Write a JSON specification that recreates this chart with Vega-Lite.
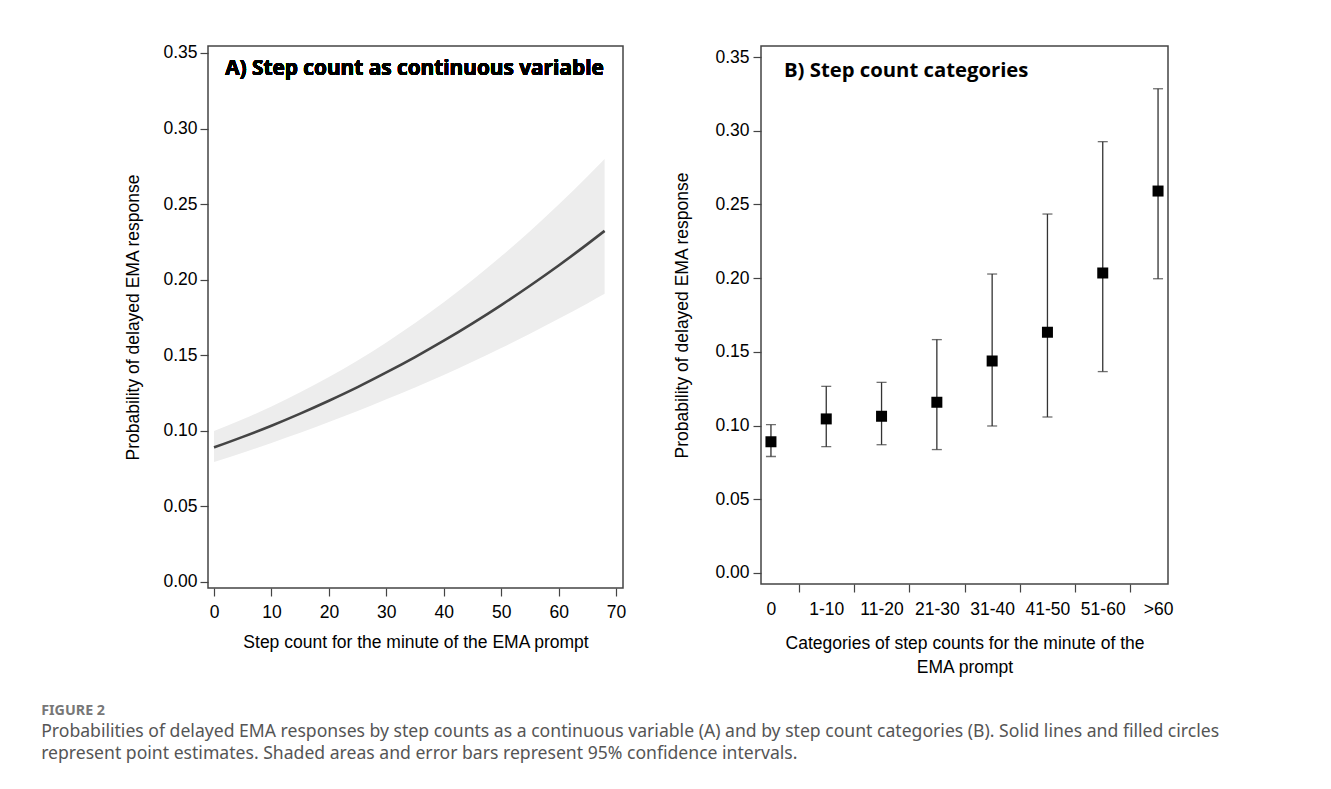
{
  "$schema": "https://vega.github.io/schema/vega-lite/v6.json",
  "padding": {"left": 41, "top": 43, "right": 5, "bottom": 5},
  "background": "white",
  "title": {
    "text": "FIGURE 2",
    "subtitle": ["Probabilities of delayed EMA responses by step counts as a continuous variable (A) and by step count categories (B). Solid lines and filled circles", "represent point estimates. Shaded areas and error bars represent 95% confidence intervals."],
    "orient": "bottom",
    "anchor": "start",
    "frame": "bounds",
    "dx": -83,
    "offset": 27,
    "font": "Noto Sans",
    "fontSize": 14.3,
    "fontWeight": "bold",
    "color": "#777777",
    "subtitleFont": "Noto Sans",
    "subtitleFontSize": 17.6,
    "subtitleColor": "#555555",
    "subtitleLineHeight": 22,
    "subtitlePadding": 5
  },
  "config": {
    "view": {"stroke": "#444444", "strokeWidth": 1.5},
    "axis": {
      "labelFont": "Liberation Sans",
      "labelFontSize": 17.5,
      "labelColor": "#000000",
      "titleFont": "Liberation Sans",
      "titleFontSize": 17.5,
      "titleFontWeight": "normal",
      "titleColor": "#000000",
      "tickColor": "#444444",
      "tickWidth": 1.2,
      "tickSize": 8,
      "domain": false,
      "grid": false
    }
  },
  "bounds": "flush",
  "spacing": 138,
  "hconcat": [
    {
      "width": 415,
      "height": 542,
      "data": {"values": [
        {"x": 0, "p": 0.0890, "lower": 0.0793, "upper": 0.0998},
        {"x": 5, "p": 0.0960, "lower": 0.0855, "upper": 0.1076},
        {"x": 10, "p": 0.1034, "lower": 0.0920, "upper": 0.1161},
        {"x": 15, "p": 0.1114, "lower": 0.0987, "upper": 0.1255},
        {"x": 20, "p": 0.1199, "lower": 0.1058, "upper": 0.1356},
        {"x": 25, "p": 0.1289, "lower": 0.1131, "upper": 0.1466},
        {"x": 30, "p": 0.1386, "lower": 0.1208, "upper": 0.1585},
        {"x": 35, "p": 0.1488, "lower": 0.1287, "upper": 0.1713},
        {"x": 40, "p": 0.1596, "lower": 0.1370, "upper": 0.1851},
        {"x": 45, "p": 0.1711, "lower": 0.1457, "upper": 0.1998},
        {"x": 50, "p": 0.1832, "lower": 0.1548, "upper": 0.2155},
        {"x": 55, "p": 0.1960, "lower": 0.1643, "upper": 0.2321},
        {"x": 60, "p": 0.2094, "lower": 0.1741, "upper": 0.2497},
        {"x": 65, "p": 0.2235, "lower": 0.1843, "upper": 0.2682},
        {"x": 68, "p": 0.2323, "lower": 0.1907, "upper": 0.2798}
      ]},
      "layer": [
        {
          "mark": {"type": "area", "color": "#ededed", "interpolate": "monotone"},
          "encoding": {
            "x": {"field": "x", "type": "quantitative",
              "scale": {"domain": [-1.05, 71.2], "nice": false, "zero": false},
              "axis": {"values": [0, 10, 20, 30, 40, 50, 60, 70], "labelPadding": 7, "title": "Step count for the minute of the EMA prompt", "titlePadding": 13}},
            "y": {"field": "lower", "type": "quantitative",
              "scale": {"domain": [-0.004, 0.3546], "nice": false, "zero": false},
              "axis": {"values": [0, 0.05, 0.1, 0.15, 0.2, 0.25, 0.3, 0.35], "format": ".2f", "labelPadding": 3, "title": "Probability of delayed EMA response", "titlePadding": 20}},
            "y2": {"field": "upper"}
          }
        },
        {
          "mark": {"type": "line", "color": "#444444", "strokeWidth": 2.6, "interpolate": "monotone"},
          "encoding": {
            "x": {"field": "x", "type": "quantitative"},
            "y": {"field": "p", "type": "quantitative"}
          }
        },
        {
          "mark": {"type": "text", "text": "A) Step count as continuous variable", "font": "Open Sans", "fontWeight": "bold", "fontSize": 20.8, "align": "center", "baseline": "alphabetic", "color": "#000000"},
          "encoding": {
            "x": {"datum": 34.9, "type": "quantitative"},
            "y": {"datum": 0.3355, "type": "quantitative"}
          }
        }
      ]
    },
    {
      "width": 407,
      "height": 538,
      "data": {"values": [
        {"category": "0", "p": 0.0890, "lower": 0.0790, "upper": 0.1006},
        {"category": "1-10", "p": 0.1045, "lower": 0.0857, "upper": 0.1266},
        {"category": "11-20", "p": 0.1063, "lower": 0.0870, "upper": 0.1293},
        {"category": "21-30", "p": 0.1158, "lower": 0.0837, "upper": 0.1583},
        {"category": "31-40", "p": 0.1438, "lower": 0.0997, "upper": 0.2028},
        {"category": "41-50", "p": 0.1633, "lower": 0.1058, "upper": 0.2435},
        {"category": "51-60", "p": 0.2035, "lower": 0.1366, "upper": 0.2926},
        {"category": ">60", "p": 0.2591, "lower": 0.1996, "upper": 0.3285}
      ]},
      "encoding": {
        "x": {"field": "category", "type": "nominal", "sort": null,
          "scale": {"type": "point", "padding": 0.18},
          "axis": {"labelAngle": 0, "tickOffset": 27.65, "labelOffset": -27.65, "labelPadding": 8,
            "tickOpacity": {"condition": {"test": "datum.value === '>60'", "value": 0}, "value": 1},
            "title": ["Categories of step counts for the minute of the", "EMA prompt"], "titlePadding": 17, "titleLineHeight": 24}}
      },
      "layer": [
        {
          "mark": {"type": "rule", "color": "#333333", "strokeWidth": 1.3},
          "encoding": {
            "y": {"field": "lower", "type": "quantitative",
              "scale": {"domain": [-0.0075, 0.3575], "nice": false, "zero": false},
              "axis": {"values": [0, 0.05, 0.1, 0.15, 0.2, 0.25, 0.3, 0.35], "format": ".2f", "labelPadding": 4, "title": "Probability of delayed EMA response", "titlePadding": 23}},
            "y2": {"field": "upper"}
          }
        },
        {
          "mark": {"type": "tick", "orient": "horizontal", "size": 10, "thickness": 1.3, "color": "#333333"},
          "encoding": {"y": {"field": "lower", "type": "quantitative"}}
        },
        {
          "mark": {"type": "tick", "orient": "horizontal", "size": 10, "thickness": 1.3, "color": "#333333"},
          "encoding": {"y": {"field": "upper", "type": "quantitative"}}
        },
        {
          "mark": {"type": "square", "size": 121, "color": "#000000", "opacity": 1, "filled": true},
          "encoding": {"y": {"field": "p", "type": "quantitative"}}
        },
        {
          "data": {"values": [{}]},
          "mark": {"type": "text", "text": "B) Step count categories", "font": "Open Sans", "fontWeight": "bold", "fontSize": 20.3, "align": "left", "baseline": "alphabetic", "color": "#000000", "dx": 13},
          "encoding": {
            "x": {"datum": "0", "type": "nominal"},
            "y": {"datum": 0.3364, "type": "quantitative"}
          }
        }
      ]
    }
  ]
}
